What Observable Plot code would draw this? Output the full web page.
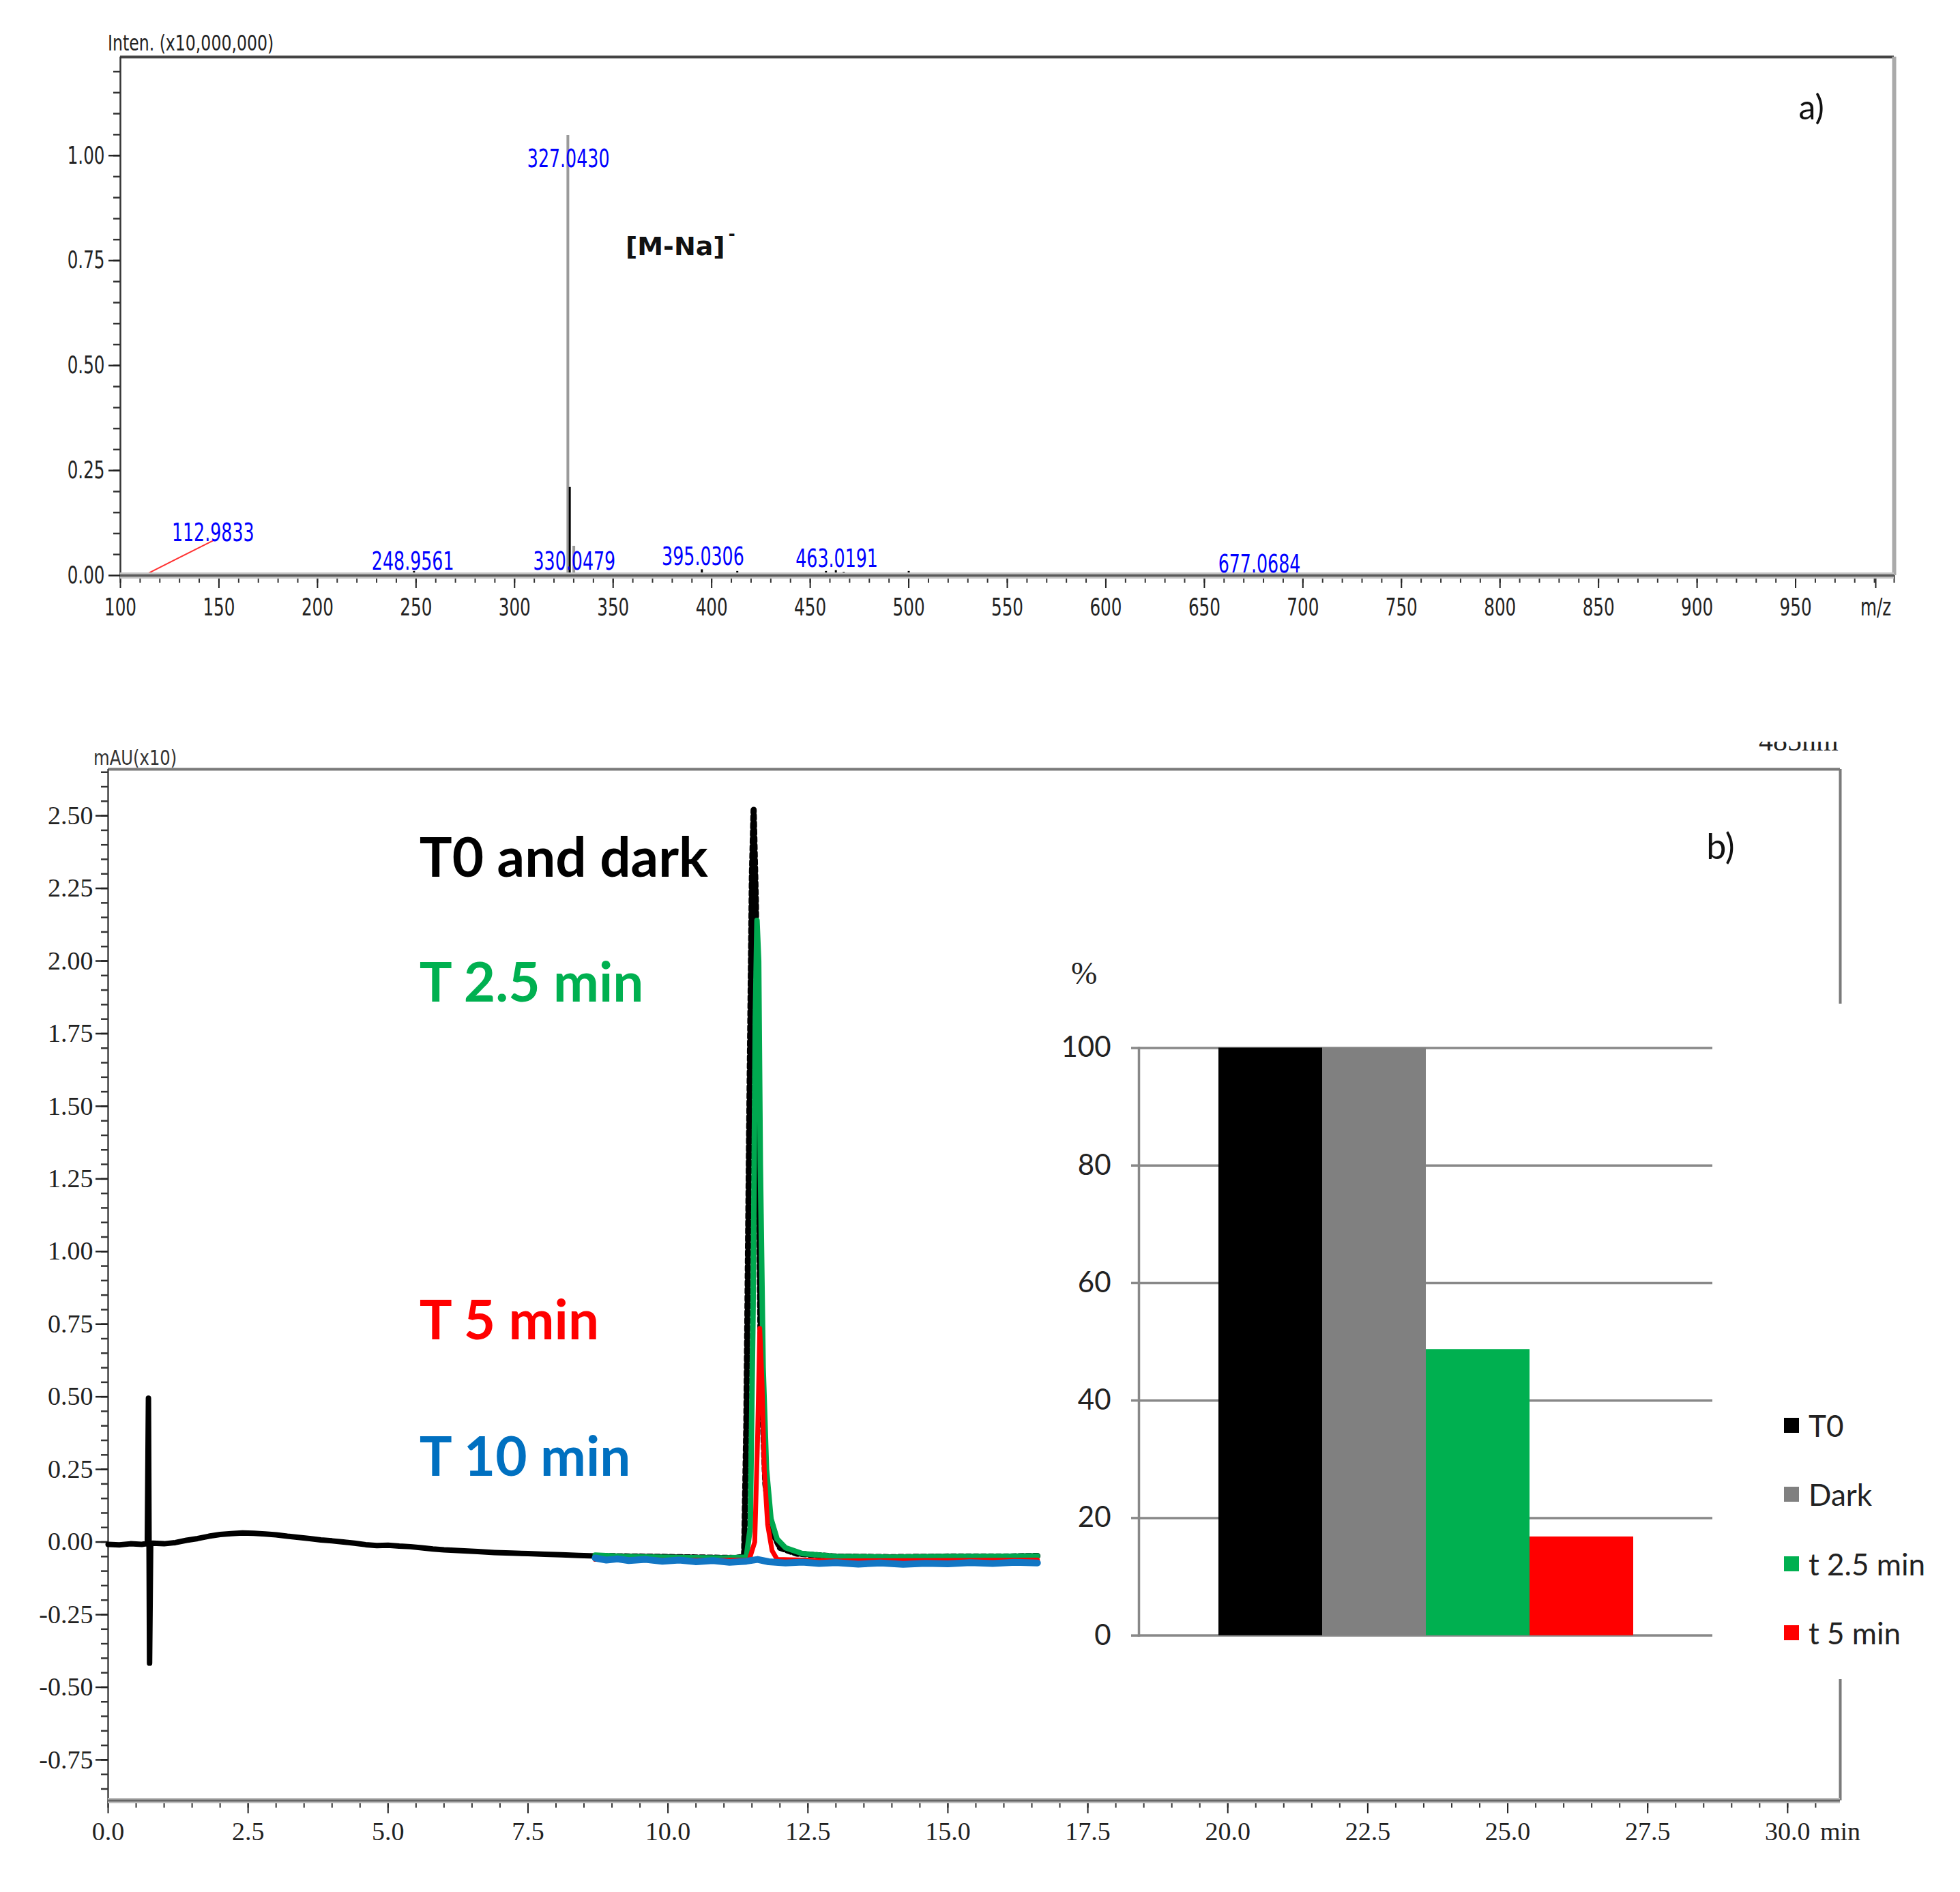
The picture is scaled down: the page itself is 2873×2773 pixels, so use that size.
<!DOCTYPE html>
<html><head><meta charset="utf-8">
<script src="https://cdn.jsdelivr.net/npm/d3@7"></script>
<script src="https://cdn.jsdelivr.net/npm/@observablehq/plot@0.6"></script>
<style>
body{margin:0;background:#fff}
#root{position:relative;width:2873px;height:2773px;background:#fff;overflow:hidden}
.abs{position:absolute}
</style></head><body><div id="root"></div>
<script>
// ---------------- Panel a: mass spectrum ----------------
const mzDomain = [100, 1000];
const intenDomain = [0, 1.235];
const mzMajorTicks = [100,150,200,250,300,350,400,450,500,550,600,650,700,750,800,850,900,950];
const intenMajorTicks = [0, 0.25, 0.5, 0.75, 1.0];
// peaks (m/z, intensity x10^7)
const grayPeakMz = [327.04, 330.05];
const grayPeakInten = [1.048, 0.07];
const blackPeakMz = [328.0, 112.98, 248.96, 395.03, 413.0, 432.0, 458.0, 463.02, 467.0, 500.0, 677.07];
const blackPeakInten = [0.21, 0.004, 0.01, 0.014, 0.01, 0.006, 0.01, 0.012, 0.008, 0.01, 0.004];
// peak labels
const peakLabelText = ["327.0430", "112.9833", "248.9561", "330.0479", "395.0306", "463.0191", "677.0684"];
const peakLabelMz = [327.3, 147, 248.4, 330.3, 395.6, 463.5, 677.9];
const peakLabelInten = [0.991, 0.101, 0.033, 0.033, 0.045, 0.039, 0.027];
// leader line for 112.9833
const leaderFromMz = [113.5], leaderFromInten = [0.004], leaderToMz = [147], leaderToInten = [0.083];

// ---------------- Panel b: chromatograms (485 nm) ----------------
const timeDomain = [0, 30.94];
const absDomain = [-0.89, 2.66];
const timeMajorTicks = [0,2.5,5,7.5,10,12.5,15,17.5,20,22.5,25,27.5,30];
const absMajorTicks = [-0.75,-0.5,-0.25,0,0.25,0.5,0.75,1.0,1.25,1.5,1.75,2.0,2.25,2.5];

const t0Time = [0.00,0.20,0.40,0.60,0.70,0.72,0.74,0.76,0.80,1.00,1.20,1.40,1.60,1.80,2.00,2.20,2.40,2.60,2.80,3.00,3.20,3.40,3.60,3.80,4.00,4.20,4.40,4.60,4.80,5.00,5.20,5.40,5.60,5.80,6.00,6.30,6.60,6.90,7.20,7.50,7.80,8.10,8.40,8.70];
const t0Abs  = [-0.008,-0.010,-0.006,-0.008,-0.005,0.495,-0.417,-0.005,-0.004,-0.006,-0.002,0.006,0.012,0.020,0.026,0.029,0.031,0.030,0.028,0.025,0.020,0.016,0.012,0.007,0.004,0.000,-0.004,-0.009,-0.012,-0.011,-0.014,-0.016,-0.020,-0.024,-0.027,-0.030,-0.033,-0.036,-0.038,-0.040,-0.042,-0.044,-0.046,-0.048];

const darkTime = [8.70,9.50,10.50,11.20,11.36,11.40,11.45,11.50,11.53,11.57,11.61,11.66,11.74,11.85,12.00,12.30,13.00,14.00,15.00,16.00,16.60];
const darkAbs  = [-0.048,-0.050,-0.053,-0.055,-0.050,0.40,1.40,2.30,2.52,2.20,1.40,0.60,0.20,0.04,-0.02,-0.04,-0.05,-0.052,-0.050,-0.050,-0.048];

const g25Time = [8.70,9.20,9.80,10.40,11.00,11.40,11.47,11.52,11.56,11.59,11.62,11.65,11.70,11.76,11.84,11.95,12.10,12.40,13.00,14.00,15.00,16.00,16.60];
const g25Abs  = [-0.045,-0.050,-0.052,-0.054,-0.055,-0.052,0.05,0.80,1.80,2.14,2.00,1.30,0.60,0.25,0.08,0.01,-0.02,-0.04,-0.05,-0.052,-0.050,-0.049,-0.048];

const r5Time = [8.70,10.00,11.45,11.55,11.60,11.64,11.68,11.72,11.78,11.86,11.95,13.00,16.60];
const r5Abs  = [-0.060,-0.062,-0.062,0.00,0.35,0.735,0.55,0.25,0.06,-0.03,-0.06,-0.065,-0.062];

const b10Time = [8.70,8.90,9.10,9.30,9.60,9.90,10.20,10.50,10.80,11.10,11.40,11.60,11.80,12.10,12.40,12.70,13.00,13.40,13.80,14.20,14.60,15.00,15.40,15.80,16.20,16.60];
const b10Abs  = [-0.055,-0.062,-0.058,-0.064,-0.060,-0.066,-0.062,-0.068,-0.064,-0.070,-0.066,-0.060,-0.068,-0.072,-0.069,-0.074,-0.071,-0.076,-0.072,-0.077,-0.073,-0.075,-0.071,-0.074,-0.070,-0.072];

const seriesLabelText = ["T0 and dark", "T 2.5 min", "T 5 min", "T 10 min"];
const seriesLabelColor = ["#000000", "#00b050", "#ff0000", "#0070c0"];
const seriesLabelTime = [5.56, 5.56, 5.56, 5.56];
const seriesLabelAbs = [2.35, 1.92, 0.757, 0.288];

// ---------------- Inset: % remaining ----------------
const barCats = ["T0", "Dark", "t 2.5 min", "t 5 min"];
const barValues = [100, 100, 48.7, 16.8];
const barColors = ["#000000", "#808080", "#00b050", "#ff0000"];
const pctTicks = [0, 20, 40, 60, 80, 100];

// ---------------- build ----------------
const zip = (xs, ys) => xs.map((x, i) => ({x, y: ys[i]}));
const root = document.getElementById("root");
const NARROW = "'Liberation Sans Narrow','DejaVu Sans Condensed','Liberation Sans',Arial,sans-serif";
const SERIF = "'Liberation Serif','DejaVu Serif',serif";
const CAL = "Lato,'Open Sans',sans-serif";

function place(el, left, top, extra) {
  const d = document.createElement("div");
  d.className = "abs";
  d.style.left = left + "px"; d.style.top = top + "px";
  if (extra) Object.assign(d.style, extra);
  d.appendChild(el);
  root.appendChild(d);
  return d;
}
function textDiv(txt, left, top, css) {
  const d = document.createElement("div");
  d.className = "abs";
  d.textContent = txt;
  d.style.left = left + "px"; d.style.top = top + "px";
  d.style.whiteSpace = "nowrap";
  Object.assign(d.style, css);
  root.appendChild(d);
  return d;
}
function condense(svg, factor, skip) {
  svg.querySelectorAll("text").forEach(t => {
    if (skip.includes(t.textContent)) return;
    const w = t.getComputedTextLength();
    if (w > 0) {
      t.setAttribute("textLength", (w * factor).toFixed(1));
      t.setAttribute("lengthAdjust", "spacingAndGlyphs");
    }
  });
}

const yMinorA = d3.range(0.05, 1.2001, 0.05);
const xMinorA = d3.range(100, 1000.1, 10);

const grayPeaks = zip(grayPeakMz, grayPeakInten);
const blackPeaks = zip(blackPeakMz, blackPeakInten);
const labelsA = peakLabelText.map((t, i) => ({t, x: peakLabelMz[i], y: peakLabelInten[i]}));
const leaders = leaderFromMz.map((x, i) => ({x1: x, y1: leaderFromInten[i], x2: leaderToMz[i], y2: leaderToInten[i]}));

const plotA = Plot.plot({
  width: 2873, height: 950,
  marginLeft: 176, marginRight: 97, marginTop: 83, marginBottom: 107,
  x: {domain: mzDomain, axis: null, label: null},
  y: {domain: intenDomain, axis: null, label: null},
  style: {fontFamily: NARROW, fontSize: "35px", background: "transparent", overflow: "visible"},
  marks: [
    Plot.ruleY([intenDomain[1]], {stroke: "#444", strokeWidth: 4}),
    Plot.ruleX([mzDomain[1]], {stroke: "#aaa", strokeWidth: 6}),
    Plot.ruleX([mzDomain[0]], {stroke: "#333", strokeWidth: 2.5}),
    Plot.axisY({ticks: yMinorA, tickSize: 10, tickFormat: () => "", label: null, strokeWidth: 2.5, color: "#333"}),
    Plot.axisY({ticks: intenMajorTicks, tickSize: 17, tickPadding: 6, label: null, tickFormat: d => d.toFixed(2), fontSize: 36, fontFamily: NARROW, strokeWidth: 2.5, color: "#222"}),
    Plot.axisX({ticks: xMinorA, tickSize: 11, tickFormat: () => "", label: null, strokeWidth: 2, color: "#333"}),
    Plot.axisX({ticks: mzMajorTicks, tickSize: 19, tickPadding: 14, label: null, tickFormat: d => String(d), fontSize: 36, fontFamily: NARROW, strokeWidth: 2, color: "#222"}),
    Plot.axisX({ticks: [mzDomain[1]], tickSize: 19, tickPadding: 14, label: null, tickFormat: () => "m/z", dx: -27, fontSize: 36, fontFamily: NARROW, strokeWidth: 2, color: "#222"}),
    Plot.link(leaders, {x1: "x1", y1: "y1", x2: "x2", y2: "y2", stroke: "#ff3030", strokeWidth: 2}),
    Plot.ruleX(grayPeaks, {x: "x", y1: 0, y2: "y", stroke: "#9a9a9a", strokeWidth: 4}),
    Plot.ruleX(blackPeaks, {x: "x", y1: 0, y2: "y", stroke: "#000", strokeWidth: 3}),
    Plot.ruleY([0], {stroke: "#c4c4c4", strokeWidth: 9}),
    Plot.ruleY([0], {stroke: "#5a5a5a", strokeWidth: 3.5}),
    Plot.text(labelsA, {x: "x", y: "y", text: "t", fill: "#0000ff", fontSize: 37, fontFamily: NARROW, lineAnchor: "middle", textAnchor: "middle"}),
    Plot.text(["[M-Na]"], {x: [356.3], y: [0.783], text: d => d, textAnchor: "start", fontSize: 38, fontWeight: "bold", fontFamily: "'DejaVu Sans',sans-serif", fill: "#111"}),
    Plot.text(["-"], {x: [408.5], y: [0.812], text: d => d, textAnchor: "start", fontSize: 24, fontWeight: "bold", fontFamily: "'DejaVu Sans',sans-serif", fill: "#111"}),
    Plot.text(["a)"], {x: [958], y: [1.113], text: d => d, fontSize: 50, fontFamily: CAL, fill: "#111"})
  ]
});
place(plotA, 0, 0);
condense(plotA, 0.76, ["[M-Na]", "-", "a)"]);
textDiv("Inten. (x10,000,000)", 158, 44, {font: `32px ${NARROW}`, color: "#222", transform: "scaleX(0.82)", transformOrigin: "left top"});

// Panel b
const absMinorB = d3.range(-0.85, 2.6501, 0.05);
const timeMinorB = d3.range(0, 30.51, 0.5);
const t0 = zip(t0Time, t0Abs), dark = zip(darkTime, darkAbs), g25 = zip(g25Time, g25Abs), r5 = zip(r5Time, r5Abs), b10 = zip(b10Time, b10Abs);

const plotB = Plot.plot({
  width: 2873, height: 1680,
  marginLeft: 158, marginRight: 176, marginTop: 77, marginBottom: 91.5,
  x: {domain: timeDomain, axis: null, label: null},
  y: {domain: absDomain, axis: null, label: null},
  style: {fontFamily: SERIF, fontSize: "38px", background: "transparent", overflow: "visible"},
  marks: [
    Plot.ruleY([absDomain[1]], {stroke: "#7a7a7a", strokeWidth: 4}),
    Plot.ruleX([timeDomain[1]], {stroke: "#7a7a7a", strokeWidth: 4}),
    Plot.ruleX([timeDomain[0]], {stroke: "#444", strokeWidth: 2.5}),
    Plot.axisY({ticks: absMinorB, tickSize: 10, tickFormat: () => "", label: null, strokeWidth: 2.5, color: "#333"}),
    Plot.axisY({ticks: absMajorTicks, tickSize: 18, tickPadding: 4, label: null, tickFormat: d => d.toFixed(2), fontSize: 38, fontFamily: SERIF, strokeWidth: 2.5, color: "#222"}),
    Plot.axisX({ticks: timeMinorB, tickSize: 11, tickFormat: () => "", label: null, strokeWidth: 2, color: "#333"}),
    Plot.axisX({ticks: timeMajorTicks, tickSize: 19, tickPadding: 12, label: null, tickFormat: d => d.toFixed(1), fontSize: 38, fontFamily: SERIF, strokeWidth: 2, color: "#222"}),
    Plot.axisX({ticks: [timeDomain[1]], tickSize: 0, tickPadding: 31, label: null, tickFormat: () => "min", fontSize: 38, fontFamily: SERIF, color: "#222"}),
    Plot.ruleY([absDomain[0]], {stroke: "#bdbdbd", strokeWidth: 8}),
    Plot.ruleY([absDomain[0]], {stroke: "#666", strokeWidth: 3}),
    Plot.line(t0, {x: "x", y: "y", stroke: "#000", strokeWidth: 8}),
    Plot.line(dark, {x: "x", y: "y", stroke: "#000", strokeWidth: 9, strokeDasharray: "6,5"}),
    Plot.line(g25, {x: "x", y: "y", stroke: "#00a84f", strokeWidth: 8}),
    Plot.line(r5, {x: "x", y: "y", stroke: "#ff0000", strokeWidth: 7}),
    Plot.line(b10, {x: "x", y: "y", stroke: "#1276c4", strokeWidth: 10}),
    ...seriesLabelText.map((t, i) => Plot.text([t], {x: [seriesLabelTime[i]], y: [seriesLabelAbs[i]], text: d => d, textAnchor: "start", fill: seriesLabelColor[i], fontSize: 80, fontWeight: "bold", fontFamily: CAL})),
    Plot.text(["b)"], {x: [28.8], y: [2.39], text: d => d, fontSize: 52, fontFamily: CAL, fill: "#111"})
  ]
});
place(plotB, 0, 1050);
textDiv("mAU(x10)", 137, 1093, {font: `30px ${NARROW}`, color: "#333", transform: "scaleX(0.9)", transformOrigin: "left top"});
// 485nm label, partially cut at top as in the source figure
const clip = document.createElement("div");
clip.className = "abs";
Object.assign(clip.style, {left: "2570px", top: "1087px", width: "140px", height: "22px", overflow: "hidden"});
const inner = document.createElement("div");
inner.textContent = "485nm";
Object.assign(inner.style, {position: "absolute", left: "8px", top: "-22px", font: `42px ${SERIF}`, color: "#222", whiteSpace: "nowrap", lineHeight: "42px"});
clip.appendChild(inner);
root.appendChild(clip);

// Inset bar chart
const bars = barCats.map((c, i) => ({c, v: barValues[i]}));
const inset = Plot.plot({
  width: 1301, height: 990,
  marginLeft: 130, marginRight: 330, marginTop: 64.5, marginBottom: 64.4,
  x: {domain: barCats, paddingInner: 0, paddingOuter: 0.75, axis: null, label: null},
  y: {domain: [0, 100], axis: null, label: null},
  color: {domain: barCats, range: barColors},
  style: {fontFamily: CAL, fontSize: "42px", background: "transparent", overflow: "visible"},
  marks: [
    Plot.gridY(pctTicks, {stroke: "#888", strokeOpacity: 1, strokeWidth: 3.5}),
    Plot.axisY({ticks: pctTicks, tickSize: 11, tickPadding: 30, label: null, fontSize: 42, fontFamily: CAL, stroke: "#888", strokeWidth: 3.5, fill: "#222"}),
    Plot.frame({anchor: "left", stroke: "#888", strokeWidth: 3.5}),
    Plot.barY(bars, {x: "c", y: "v", fill: "c"})
  ]
});
const insetBox = place(inset, 1539, 1471, {width: "1301px", height: "990px", background: "#fff"});
// legend
barCats.forEach((c, i) => {
  const row = document.createElement("div");
  row.className = "abs";
  Object.assign(row.style, {left: "1076px", top: (618 + i * 101.3 - 25) + "px", height: "50px", display: "flex", alignItems: "center", font: `44px ${CAL}`, color: "#222", whiteSpace: "nowrap"});
  const sw = document.createElement("span");
  Object.assign(sw.style, {display: "inline-block", width: "22px", height: "22px", background: barColors[i], marginRight: "14px"});
  row.appendChild(sw);
  row.appendChild(document.createTextNode(c));
  insetBox.appendChild(row);
});
textDiv("%", 1570, 1400, {font: `46px ${SERIF}`, color: "#222"});
</script></body></html>
